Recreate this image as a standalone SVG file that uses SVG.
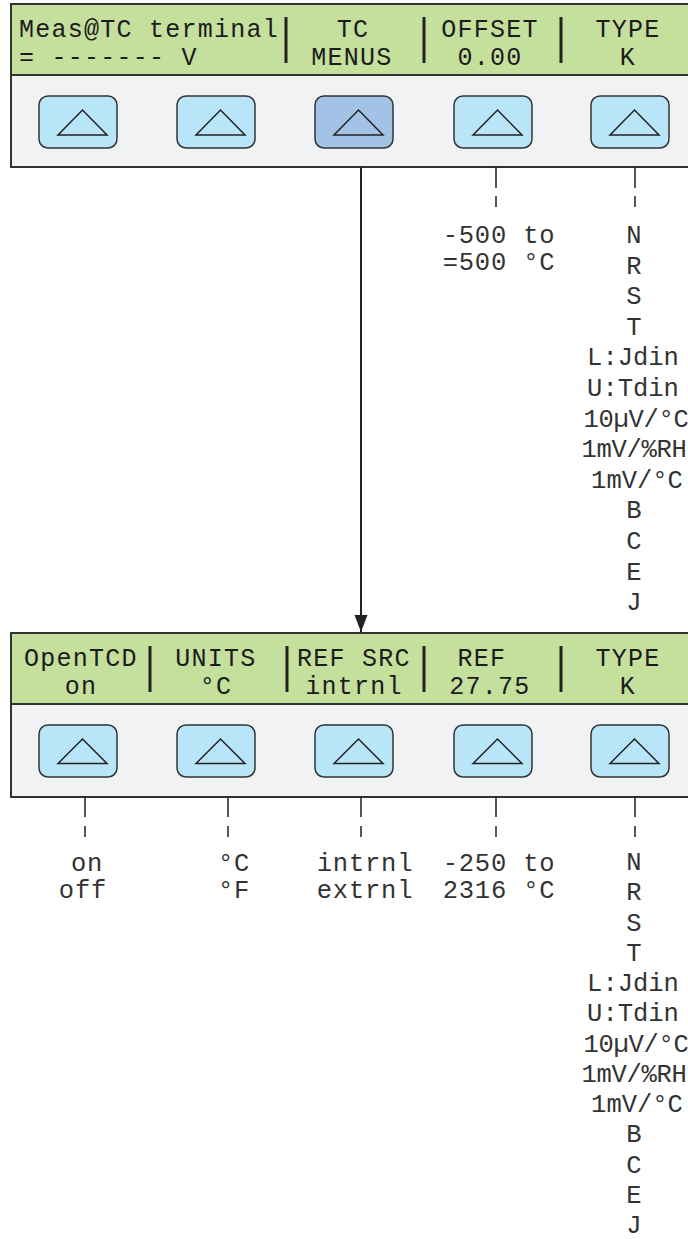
<svg xmlns="http://www.w3.org/2000/svg" width="688" height="1239" viewBox="0 0 688 1239">
<style>
.panel{fill:#f1f2f4;stroke:#333;stroke-width:2}
.lcd{fill:#c5df9d;stroke:#333;stroke-width:2}
.btn{fill:#b9e5f9;stroke:#333;stroke-width:1.5}
.btn.sel{fill:#a2c3e6}
.tri{fill:none;stroke:#222;stroke-width:1.5;stroke-linejoin:miter}
.bar{stroke:#222;stroke-width:3}
.lt{font-family:"Liberation Mono","DejaVu Sans Mono",monospace;font-size:25px;letter-spacing:1.25px;fill:#1c1c1c}
.lst{font-family:"Liberation Mono","DejaVu Sans Mono",monospace;font-size:25.5px;fill:#333;text-anchor:middle}
.rng{letter-spacing:0.8px}
.tight{letter-spacing:-0.3px}
.m{text-anchor:middle}
.cn{stroke:#222;stroke-width:1.5;fill:none}
.arr{stroke:#222;stroke-width:2;fill:none}
</style>
<defs>
<marker id="ah" markerUnits="userSpaceOnUse" markerWidth="18" markerHeight="14" refX="17" refY="7" orient="auto" viewBox="0 0 18 14">
<path d="M0,0.5 L17,7 L0,13.5 Z" fill="#222"/>
</marker>
</defs>
<rect width="688" height="1239" fill="#fff"/>

<g id="panel-top">
<rect class="panel" x="11" y="4" width="700" height="163"/>
<rect class="lcd" x="11" y="4" width="700" height="71"/>
<line class="bar" x1="286" y1="17" x2="286" y2="63"/>
<line class="bar" x1="424" y1="17" x2="424" y2="63"/>
<line class="bar" x1="561" y1="17" x2="561" y2="63"/>
<text class="lt" x="19" y="37">Meas@TC terminal</text>
<text class="lt" x="19" y="65">= ------- V</text>
<text class="lt m" x="353" y="37">TC</text>
<text class="lt m" x="352" y="65">MENUS</text>
<text class="lt m" x="490" y="37">OFFSET</text>
<text class="lt m" x="490" y="65">0.00</text>
<text class="lt m" x="628" y="37">TYPE</text>
<text class="lt m" x="628" y="65">K</text>
</g>
<g id="top-buttons">
<g id="tb1"><rect class="btn" x="39" y="96" width="78" height="52" rx="9"/><path class="tri" d="M58,135 L82.5,110 L107,135 Z"/></g>
<g id="tb2"><rect class="btn" x="177" y="96" width="78" height="52" rx="9"/><path class="tri" d="M196,135 L220.5,110 L245,135 Z"/></g>
<g id="tb3"><rect class="btn sel" x="315" y="96" width="78" height="52" rx="9"/><path class="tri" d="M334,135 L358.5,110 L383,135 Z"/></g>
<g id="tb4"><rect class="btn" x="454" y="96" width="78" height="52" rx="9"/><path class="tri" d="M473,135 L497.5,110 L522,135 Z"/></g>
<g id="tb5"><rect class="btn" x="591" y="96" width="78" height="52" rx="9"/><path class="tri" d="M610,135 L634.5,110 L659,135 Z"/></g>
</g>

<g id="panel-bottom">
<rect class="panel" x="11" y="633" width="700" height="164"/>
<rect class="lcd" x="11" y="633" width="700" height="71"/>
<line class="bar" x1="150" y1="646" x2="150" y2="692"/>
<line class="bar" x1="287" y1="646" x2="287" y2="692"/>
<line class="bar" x1="424" y1="646" x2="424" y2="692"/>
<line class="bar" x1="561" y1="646" x2="561" y2="692"/>
<text class="lt m" x="81" y="666">OpenTCD</text>
<text class="lt m" x="81" y="694">on</text>
<text class="lt m" x="216" y="666">UNITS</text>
<text class="lt m" x="216" y="694">°C</text>
<text class="lt m" x="354" y="666">REF SRC</text>
<text class="lt m" x="354" y="694">intrnl</text>
<text class="lt m" x="482" y="666">REF</text>
<text class="lt m" x="490" y="694">27.75</text>
<text class="lt m" x="628" y="666">TYPE</text>
<text class="lt m" x="628" y="694">K</text>
</g>
<g id="bottom-buttons">
<g id="bb1"><rect class="btn" x="39" y="725" width="78" height="52" rx="9"/><path class="tri" d="M58,763.5 L82.5,739 L107,763.5 Z"/></g>
<g id="bb2"><rect class="btn" x="177" y="725" width="78" height="52" rx="9"/><path class="tri" d="M196,763.5 L220.5,739 L245,763.5 Z"/></g>
<g id="bb3"><rect class="btn" x="315" y="725" width="78" height="52" rx="9"/><path class="tri" d="M334,763.5 L358.5,739 L383,763.5 Z"/></g>
<g id="bb4"><rect class="btn" x="454" y="725" width="78" height="52" rx="9"/><path class="tri" d="M473,763.5 L497.5,739 L522,763.5 Z"/></g>
<g id="bb5"><rect class="btn" x="591" y="725" width="78" height="52" rx="9"/><path class="tri" d="M610,763.5 L634.5,739 L659,763.5 Z"/></g>
</g>

<g id="connectors">
<line class="arr" x1="361" y1="167" x2="361" y2="632" marker-end="url(#ah)"/>
<path class="cn" d="M496,167 V188 M496,196 V207 M635,167 V188 M635,196 V207"/>
<path class="cn" d="M85,797 V817 M85,826 V837 M228,797 V817 M228,826 V837 M361,797 V817 M361,826 V837 M496,797 V817 M496,826 V837 M635,797 V817 M635,826 V837"/>
</g>

<g id="offset-range">
<text class="lst rng" x="499" y="243">-500 to</text>
<text class="lst rng" x="499" y="270">=500 °C</text>
</g>
<g id="type-list-top">
<text class="lst" x="634" y="243">N</text>
<text class="lst" x="634" y="273.6">R</text>
<text class="lst" x="634" y="304.2">S</text>
<text class="lst" x="634" y="334.8">T</text>
<text class="lst" x="633" y="365.4">L:Jdin</text>
<text class="lst" x="633" y="396">U:Tdin</text>
<text class="lst tight" x="636" y="426.6">10µV/°C</text>
<text class="lst tight" x="634" y="457.2">1mV/%RH</text>
<text class="lst" x="637" y="487.8">1mV/°C</text>
<text class="lst" x="634" y="518.4">B</text>
<text class="lst" x="634" y="549">C</text>
<text class="lst" x="634" y="579.6">E</text>
<text class="lst" x="634" y="610.2">J</text>
</g>

<g id="opentcd-options">
<text class="lst rng" x="87" y="871">on</text>
<text class="lst rng" x="83" y="898">off</text>
</g>
<g id="units-options">
<text class="lst rng" x="234" y="871">°C</text>
<text class="lst rng" x="234" y="898">°F</text>
</g>
<g id="refsrc-options">
<text class="lst rng" x="365" y="871">intrnl</text>
<text class="lst rng" x="365" y="898">extrnl</text>
</g>
<g id="ref-range">
<text class="lst rng" x="499" y="871">-250 to</text>
<text class="lst rng" x="499" y="898">2316 °C</text>
</g>
<g id="type-list-bottom">
<text class="lst" x="634" y="870">N</text>
<text class="lst" x="634" y="900.2">R</text>
<text class="lst" x="634" y="930.5">S</text>
<text class="lst" x="634" y="960.7">T</text>
<text class="lst" x="633" y="991">L:Jdin</text>
<text class="lst" x="633" y="1021.2">U:Tdin</text>
<text class="lst tight" x="636" y="1051.5">10µV/°C</text>
<text class="lst tight" x="634" y="1081.7">1mV/%RH</text>
<text class="lst" x="637" y="1112">1mV/°C</text>
<text class="lst" x="634" y="1142.2">B</text>
<text class="lst" x="634" y="1172.5">C</text>
<text class="lst" x="634" y="1202.7">E</text>
<text class="lst" x="634" y="1233">J</text>
</g>
</svg>
